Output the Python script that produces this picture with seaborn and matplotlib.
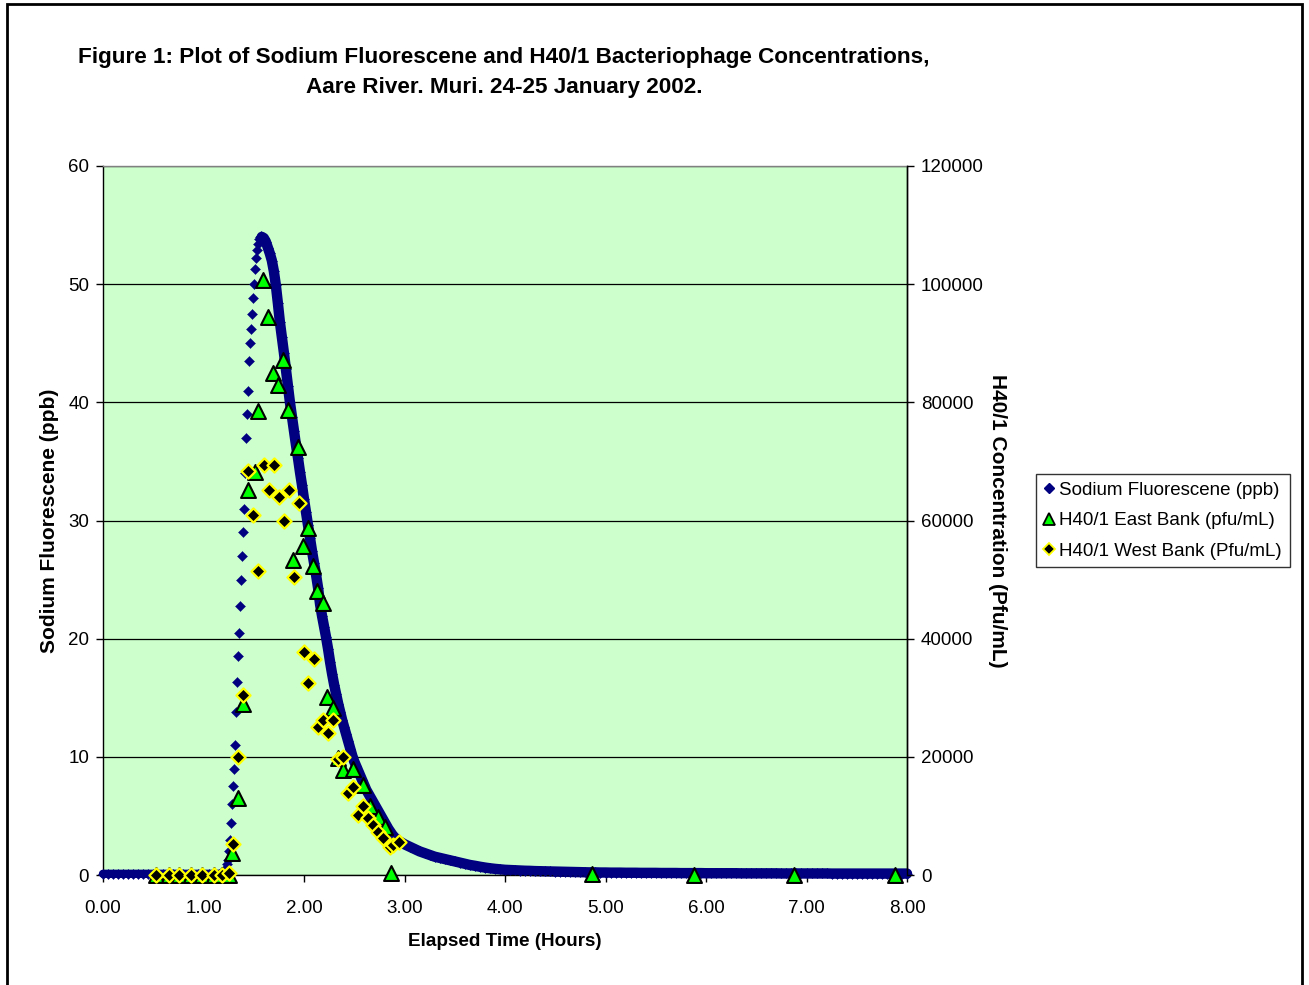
import numpy as np
import pandas as pd
import matplotlib
matplotlib.use("Agg")
import matplotlib.pyplot as plt
import seaborn as sns
from matplotlib.lines import Line2D
from matplotlib.patches import Rectangle

# ---------------- data ----------------
# Sodium fluorescene (ppb) - baseline segment
na_time_base = [0.00, 0.05, 0.10, 0.15, 0.20, 0.25, 0.30, 0.35, 0.40, 0.45,
                0.50, 0.55, 0.60, 0.65, 0.70, 0.75, 0.80, 0.85, 0.90, 0.95,
                1.00, 1.05, 1.10, 1.15]
na_base = [0.10, 0.10, 0.10, 0.10, 0.10, 0.10, 0.10, 0.10, 0.10, 0.10,
           0.10, 0.10, 0.10, 0.10, 0.10, 0.10, 0.10, 0.10, 0.10, 0.10,
           0.10, 0.10, 0.10, 0.10]
# rising limb
na_time_rise = [1.16, 1.17, 1.18, 1.19, 1.20, 1.21, 1.22, 1.23, 1.24, 1.25,
                1.26, 1.27, 1.28, 1.29, 1.30, 1.31, 1.32, 1.33, 1.34, 1.35,
                1.36, 1.37, 1.38, 1.39, 1.40, 1.41, 1.42, 1.43, 1.44, 1.45,
                1.46, 1.47, 1.48, 1.49, 1.50, 1.51, 1.52, 1.53, 1.54, 1.55,
                1.56, 1.57, 1.58]
na_rise = [0.1, 0.1, 0.15, 0.2, 0.3, 0.4, 0.6, 0.9, 1.3, 2.0,
           3.0, 4.4, 6.0, 7.5, 9.0, 11.0, 13.8, 16.3, 18.5, 20.5,
           22.8, 25.0, 27.0, 29.0, 31.0, 34.0, 37.0, 39.0, 41.0, 43.5,
           45.0, 46.2, 47.5, 48.8, 50.0, 51.3, 52.2, 52.9, 53.4, 53.8,
           54.0, 54.1, 54.0]
# falling limb
na_time_decay = [1.60, 1.62, 1.64, 1.66, 1.68, 1.70, 1.72, 1.74, 1.76, 1.78,
                 1.80, 1.82, 1.84, 1.86, 1.88, 1.90, 1.92, 1.94, 1.96, 1.98,
                 2.00, 2.02, 2.04, 2.06, 2.08, 2.10, 2.12, 2.14, 2.16, 2.18,
                 2.20, 2.22, 2.24, 2.26, 2.28, 2.30, 2.32, 2.34, 2.36, 2.38,
                 2.40, 2.42, 2.44, 2.46, 2.48, 2.50, 2.52, 2.54, 2.56, 2.58,
                 2.60, 2.62, 2.64, 2.66, 2.68, 2.70, 2.72, 2.74, 2.76, 2.78,
                 2.80, 2.82, 2.84, 2.86, 2.88, 2.90, 2.92, 2.94, 2.96, 2.98,
                 3.00]
na_decay = [53.9, 53.6, 53.1, 52.6, 52.0, 51.1, 49.9, 48.4, 46.8, 45.5,
            44.2, 42.8, 41.4, 40.0, 38.8, 37.6, 36.4, 35.3, 34.1, 33.0,
            31.8, 30.7, 29.6, 28.5, 27.4, 26.4, 25.4, 24.3, 22.9, 21.9,
            21.0, 20.1, 19.1, 18.0, 17.0, 16.1, 15.3, 14.5, 13.8, 13.1,
            12.5, 11.9, 11.3, 10.7, 10.1, 9.6, 9.2, 8.8, 8.4, 8.0,
            7.6, 7.2, 6.9, 6.6, 6.3, 6.0, 5.7, 5.4, 5.1, 4.8,
            4.5, 4.2, 3.9, 3.65, 3.4, 3.2, 3.05, 2.9, 2.8, 2.7,
            2.6]
# recession tail
na_time_tail = [3.05, 3.10, 3.15, 3.20, 3.25, 3.30, 3.35, 3.40, 3.45, 3.50,
                3.55, 3.60, 3.65, 3.70, 3.75, 3.80, 3.85, 3.90, 3.95]
na_tail = [2.4, 2.2, 2.0, 1.85, 1.7, 1.55, 1.45, 1.35, 1.25, 1.15,
           1.05, 0.95, 0.85, 0.78, 0.7, 0.63, 0.57, 0.52, 0.48]
na_time_late = [4.00, 4.05, 4.10, 4.15, 4.20, 4.25, 4.30, 4.35, 4.40, 4.45,
                4.50, 4.55, 4.60, 4.65, 4.70, 4.75, 4.80, 4.85, 4.90, 4.95,
                5.00, 5.05, 5.10, 5.15, 5.20, 5.25, 5.30, 5.35, 5.40, 5.45,
                5.50, 5.55, 5.60, 5.65, 5.70, 5.75, 5.80, 5.85, 5.90, 5.95,
                6.00, 6.05, 6.10, 6.15, 6.20, 6.25, 6.30, 6.35, 6.40, 6.45,
                6.50, 6.55, 6.60, 6.65, 6.70, 6.75, 6.80, 6.85, 6.90, 6.95,
                7.00, 7.05, 7.10, 7.15, 7.20, 7.25, 7.30, 7.35, 7.40, 7.45,
                7.50, 7.55, 7.60, 7.65, 7.70, 7.75, 7.80, 7.85, 7.90, 7.95,
                8.00]
na_late = [0.44, 0.42, 0.40, 0.38, 0.36, 0.35, 0.33, 0.32, 0.31, 0.30,
           0.29, 0.28, 0.27, 0.26, 0.25, 0.24, 0.23, 0.22, 0.22, 0.21,
           0.21, 0.20, 0.20, 0.20, 0.19, 0.19, 0.19, 0.18, 0.18, 0.18,
           0.18, 0.17, 0.17, 0.17, 0.17, 0.16, 0.16, 0.16, 0.16, 0.16,
           0.15, 0.15, 0.15, 0.15, 0.15, 0.15, 0.15, 0.14, 0.14, 0.14,
           0.14, 0.14, 0.14, 0.14, 0.14, 0.13, 0.13, 0.13, 0.13, 0.13,
           0.13, 0.13, 0.13, 0.13, 0.13, 0.12, 0.12, 0.12, 0.12, 0.12,
           0.12, 0.12, 0.12, 0.12, 0.12, 0.12, 0.12, 0.12, 0.12, 0.12,
           0.12]

# H40/1 East Bank (pfu/mL)
east_time = [0.53, 0.66, 0.76, 0.88, 0.99, 1.10, 1.18, 1.25, 1.28, 1.34,
             1.39, 1.44, 1.51, 1.54, 1.59, 1.64, 1.69, 1.74, 1.79, 1.84,
             1.89, 1.94, 1.99, 2.04, 2.09, 2.13, 2.19, 2.23, 2.29, 2.34,
             2.39, 2.49, 2.59, 2.66, 2.74, 2.81, 2.87, 4.87, 5.88, 6.88, 7.88]
east_pfu = [0, 0, 0, 0, 0, 0, 0, 0, 3700, 13000,
            29000, 65200, 68200, 78500, 100700, 94500, 84900, 82900, 87100, 78700,
            53300, 72500, 55600, 58700, 52300, 48100, 46000, 30200, 28200, 19800,
            17800, 18000, 15200, 11600, 9900, 8200, 300, 200, 0, 0, 0]

# H40/1 West Bank (Pfu/mL)
west_time = [0.53, 0.66, 0.76, 0.88, 0.99, 1.10, 1.18, 1.25, 1.29, 1.34,
             1.39, 1.44, 1.49, 1.54, 1.60, 1.65, 1.70, 1.75, 1.80, 1.85,
             1.90, 1.95, 2.00, 2.04, 2.10, 2.14, 2.19, 2.24, 2.29, 2.34,
             2.39, 2.44, 2.49, 2.54, 2.59, 2.64, 2.69, 2.74, 2.79, 2.86,
             2.89, 2.95]
west_pfu = [0, 0, 0, 0, 0, 0, 0, 300, 5300, 19900,
            30500, 68400, 60900, 51400, 69400, 65200, 69400, 64000, 59900, 65200,
            50500, 63000, 37800, 32500, 36600, 25100, 26200, 24100, 26200, 19700,
            19900, 13800, 14900, 10200, 11600, 9600, 8500, 7300, 6200, 4800,
            5100, 5600]

x_ticks = [0, 1, 2, 3, 4, 5, 6, 7, 8]
y_left_ticks = [0, 10, 20, 30, 40, 50, 60]
y_right_ticks = [0, 20000, 40000, 60000, 80000, 100000, 120000]

title_1 = "Figure 1: Plot of Sodium Fluorescene and H40/1 Bacteriophage Concentrations,"
title_2 = "Aare River. Muri. 24-25 January 2002."
labels = ["Sodium Fluorescene (ppb)", "H40/1 East Bank (pfu/mL)", "H40/1 West Bank (Pfu/mL)"]

# ---------------- styling ----------------
sns.set_style("white")
plt.rcParams['font.family'] = ['Liberation Sans', 'DejaVu Sans']
plt.rcParams['text.color'] = 'black'
plt.rcParams['axes.labelcolor'] = 'black'
plt.rcParams['xtick.color'] = 'black'
plt.rcParams['ytick.color'] = 'black'

W, H = 1309, 985
NAVY = '#000080'
GREEN = '#00FF00'
YELLOW = '#FFFF00'
TICK_FS = 13.5

fig = plt.figure(figsize=(W / 100, H / 100), dpi=100)
fig.patch.set_facecolor('white')
L, R, T, B = 103, 907, 166, 875
ax = fig.add_axes([L / W, 1 - B / H, (R - L) / W, (B - T) / H])
ax.set_facecolor('#CCFFCC')
ax2 = ax.twinx()

na_time_all = na_time_base + na_time_rise + na_time_decay + na_time_tail + na_time_late
na_all = na_base + na_rise + na_decay + na_tail + na_late

# dense band parts (baseline and recession) as thick line under markers
sns.lineplot(x=na_time_base + na_time_rise[:5], y=na_base + na_rise[:5], ax=ax,
             color=NAVY, linewidth=6.0, estimator=None, sort=False, legend=False,
             clip_on=False, zorder=2)
sns.lineplot(x=na_time_rise[-1:] + na_time_decay + na_time_tail + na_time_late,
             y=na_rise[-1:] + na_decay + na_tail + na_late, ax=ax,
             color=NAVY, linewidth=7.5, estimator=None, sort=False, legend=False,
             clip_on=False, zorder=2)
sns.scatterplot(x=na_time_all, y=na_all, ax=ax, marker='D', s=26, color=NAVY,
                edgecolor=NAVY, linewidth=0.3, legend=False, clip_on=False, zorder=3)

sns.scatterplot(x=east_time, y=east_pfu, ax=ax2, marker='^', s=115, color=GREEN,
                edgecolor='black', linewidth=1.5, legend=False, clip_on=False, zorder=3)
sns.scatterplot(x=west_time, y=west_pfu, ax=ax2, marker='D', s=52, color='black',
                edgecolor=YELLOW, linewidth=1.6, legend=False, clip_on=False, zorder=4)

ax.set_xlim(0, 8)
ax.set_ylim(0, 60)
ax2.set_ylim(0, 120000)
ax.set_xticks(x_ticks)
ax.set_xticklabels([f"{v:.2f}" for v in x_ticks])
ax.set_yticks(y_left_ticks)
ax.set_yticklabels([str(v) for v in y_left_ticks])
ax2.set_yticks(y_right_ticks)
ax2.set_yticklabels([str(v) for v in y_right_ticks])
ax.set_xlabel("")
ax.set_ylabel("")
ax2.set_ylabel("")

ax.yaxis.grid(True, color='black', linewidth=0.9)
ax.xaxis.grid(False)
ax.set_axisbelow(True)

ax.spines['top'].set_color('#808080')
for s in ['left', 'bottom', 'right']:
    ax.spines[s].set_color('black')
for s in ['top', 'left', 'bottom']:
    ax2.spines[s].set_visible(False)
ax2.spines['right'].set_color('black')
for sp in list(ax.spines.values()) + [ax2.spines['right']]:
    sp.set_linewidth(1.0)

ax.tick_params(axis='x', direction='out', length=5, width=1, labelsize=TICK_FS, pad=13,
               bottom=True, colors='black')
ax.tick_params(axis='y', direction='out', length=5, width=1, labelsize=TICK_FS, pad=5,
               left=True, colors='black')
ax2.tick_params(axis='y', direction='out', length=5, width=1, labelsize=TICK_FS, pad=5,
                right=True, colors='black')

# titles and axis labels
fig.text(504 / W, 1 - 57 / H, title_1, ha='center', va='center', fontsize=16.2,
         fontweight='bold', color='black')
fig.text(504 / W, 1 - 88 / H, title_2, ha='center', va='center', fontsize=16.2,
         fontweight='bold', color='black')
fig.text(505 / W, 1 - 941 / H, "Elapsed Time (Hours)", ha='center', va='center',
         fontsize=13.6, fontweight='bold', color='black')
fig.text(50 / W, 1 - 521 / H, "Sodium Fluorescene (ppb)", ha='center', va='center',
         rotation=90, fontsize=15, fontweight='bold', color='black')
fig.text(998 / W, 1 - 521 / H, "H40/1 Concentration (Pfu/mL)", ha='center', va='center',
         rotation=-90, fontsize=15, fontweight='bold', color='black')

# legend
handles = [
    Line2D([], [], linestyle='none', marker='D', markersize=5.5, color=NAVY, markeredgecolor=NAVY),
    Line2D([], [], linestyle='none', marker='^', markersize=9, markerfacecolor=GREEN,
           markeredgecolor='black', markeredgewidth=1.3),
    Line2D([], [], linestyle='none', marker='D', markersize=6.5, markerfacecolor='black',
           markeredgecolor=YELLOW, markeredgewidth=1.3),
]
leg = fig.legend(handles, labels, loc='upper left', bbox_to_anchor=(1036 / W, 1 - 474 / H),
                 frameon=True, fancybox=False, edgecolor='black', fontsize=13.5,
                 handlelength=0.6, handletextpad=0.25, labelspacing=0.72,
                 borderpad=0.4, borderaxespad=0, labelcolor='black')
leg.get_frame().set_linewidth(1.0)

# outer chart frame
fig.patches.append(Rectangle((7 / W, -0.01), (1302 - 7) / W, (1 - 4 / H) + 0.01,
                             transform=fig.transFigure, fill=False,
                             edgecolor='black', linewidth=2.0))

fig.savefig("out.png", dpi=100)
